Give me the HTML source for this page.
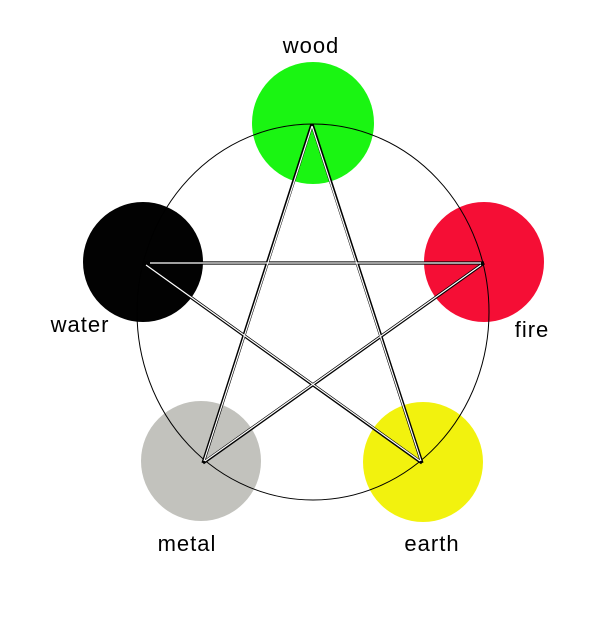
<!DOCTYPE html>
<html><head><style>body{margin:0;background:#fff}svg{display:block}</style></head><body>
<svg width="600" height="622" xmlns="http://www.w3.org/2000/svg">
<rect width="600" height="622" fill="#fff"/>
<circle cx="313" cy="123" r="61" fill="#1af512"/>
<circle cx="484" cy="262" r="60" fill="#f50e35"/>
<circle cx="423" cy="462" r="60" fill="#f2f20e"/>
<circle cx="201" cy="461" r="60" fill="#c2c2bd"/>
<circle cx="143" cy="262" r="60" fill="#020202"/>
<ellipse cx="313" cy="312" rx="176" ry="188" fill="none" stroke="#000" stroke-width="1"/>
<g stroke="#000" stroke-width="3.2" stroke-linecap="butt">
<line x1="312" y1="124" x2="422" y2="463"/>
<line x1="422" y1="463" x2="143" y2="263"/>
<line x1="143" y1="263" x2="484" y2="263"/>
<line x1="484" y1="263" x2="203" y2="463"/>
<line x1="203" y1="463" x2="312" y2="124"/>
</g>
<g stroke="#fff" stroke-width="1.2" stroke-linecap="butt">
<line x1="312" y1="126" x2="421" y2="461"/>
<line x1="420" y1="461" x2="146" y2="265"/>
<line x1="150" y1="263" x2="481" y2="263"/>
<line x1="481" y1="265" x2="205" y2="461"/>
<line x1="204" y1="461" x2="312" y2="126"/>
</g>
<g font-family="Liberation Sans, sans-serif" font-size="22" letter-spacing="1" fill="#000" text-anchor="middle">
<text x="311" y="53">wood</text>
<text x="80" y="332">water</text>
<text x="532" y="337">fire</text>
<text x="187" y="551">metal</text>
<text x="432" y="551">earth</text>
</g>
</svg>
</body></html>
